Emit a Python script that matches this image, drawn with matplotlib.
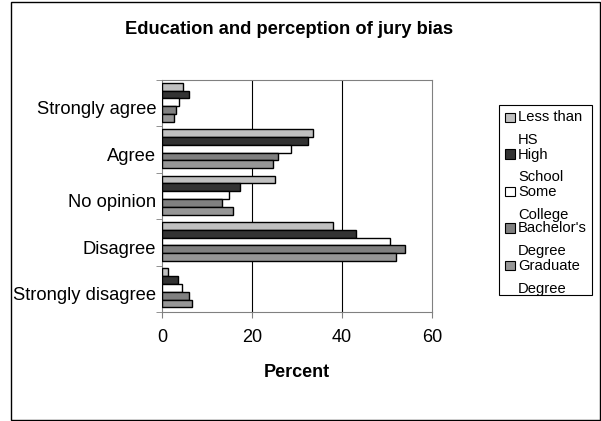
import numpy as np
import matplotlib
matplotlib.use("Agg")
import matplotlib.pyplot as plt
from matplotlib.patches import Rectangle

plt.rcParams['font.family'] = ['Liberation Sans', 'DejaVu Sans']

# data (percent)
categories = ["Strongly agree", "Agree", "No opinion", "Disagree", "Strongly disagree"]
series = ["Less than\nHS", "High\nSchool", "Some\nCollege", "Bachelor's\nDegree", "Graduate\nDegree"]
less_than_hs = [4.6, 33.5, 25.0, 37.9, 1.3]
high_school = [6.0, 32.4, 17.3, 43.0, 3.5]
some_college = [3.8, 28.7, 14.9, 50.7, 4.4]
bachelors = [3.1, 25.7, 13.3, 54.0, 6.1]
graduate = [2.7, 24.7, 15.8, 52.0, 6.6]
x_ticks = [0, 20, 40, 60]

values = [less_than_hs, high_school, some_college, bachelors, graduate]
colors = ['#c0c0c0', '#333333', '#ffffff', '#808080', '#969696']

fig = plt.figure(figsize=(6.01, 4.21), dpi=100)
ax = fig.add_axes([162 / 601, 1 - 312 / 421, 270 / 601, 232 / 421])

# outer chart frame
fig.patches.append(Rectangle((11 / 601, 1 / 421), 589 / 601, 418 / 421, transform=fig.transFigure,
                             fill=False, edgecolor='black', linewidth=1.0))

ypos = np.arange(len(categories))
bar_h = 0.168
for i, vals in enumerate(values):
    offs = (i - 2) * bar_h - 0.02
    ax.barh(ypos + offs, vals, height=bar_h, color=colors[i], edgecolor='black', linewidth=1.0, zorder=3)

ax.set_xlim(0, 60)
ax.set_ylim(len(categories) - 0.5, -0.5)
ax.set_xticks(x_ticks)
ax.set_xticklabels([str(t) for t in x_ticks], fontsize=13)
# Excel puts the category labels a little below the band centre
ax.set_yticks(ypos + 0.1)
ax.set_yticklabels(categories, fontsize=13.2)
ax.set_yticks(np.arange(-0.5, len(categories), 1), minor=True)
ax.tick_params(axis='y', which='major', length=0, pad=4)
ax.tick_params(axis='y', which='minor', length=4, direction='out', color='#808080')
ax.tick_params(axis='x', length=4, direction='out', color='#808080', pad=8)
for x in x_ticks[1:-1]:
    ax.axvline(x, color='black', linewidth=0.8, zorder=1)
for s in ax.spines.values():
    s.set_color('#808080')
ax.set_xlabel("Percent", fontsize=13, fontweight='bold', labelpad=13)

fig.text(289 / 601, 1 - 30 / 421, "Education and perception of jury bias", fontsize=13.2,
         fontweight='bold', ha='center', va='center')

# legend drawn by hand to keep Excel's wrapped label look
fig.patches.append(Rectangle((499 / 601, 1 - 295 / 421), 93 / 601, 190 / 421, transform=fig.transFigure,
                             fill=False, edgecolor='black', linewidth=0.8))
for i, lab in enumerate(series):
    y0 = 117.5 + i * 37.0
    fig.patches.append(Rectangle((505 / 601, 1 - (y0 + 4.5) / 421), 9.5 / 601, 9.5 / 421,
                                 transform=fig.transFigure, facecolor=colors[i],
                                 edgecolor='black', linewidth=0.8))
    first, second = lab.split("\n")
    fig.text(518 / 601, 1 - y0 / 421, first, fontsize=10.6, va='center', ha='left')
    fig.text(518 / 601, 1 - (y0 + 23) / 421, second, fontsize=10.6, va='center', ha='left')

fig.savefig("out.png", dpi=100)
